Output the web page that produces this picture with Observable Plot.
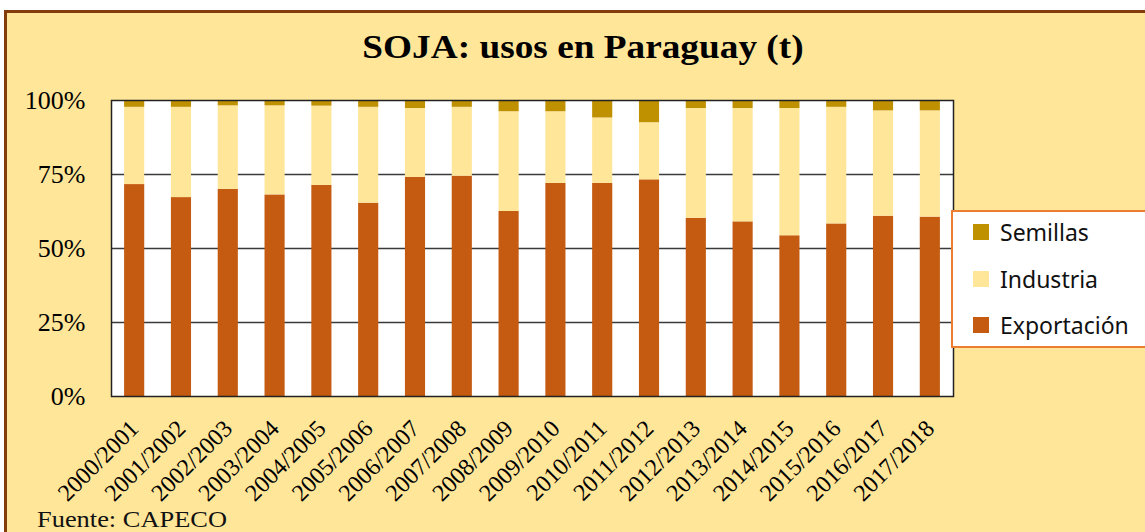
<!DOCTYPE html>
<html>
<head>
<meta charset="utf-8">
<script src="https://cdn.jsdelivr.net/npm/d3@7"></script>
<script src="https://cdn.jsdelivr.net/npm/@observablehq/plot@0.6"></script>
<style>
  html, body { margin: 0; padding: 0; background: #ffffff; width: 1145px; height: 532px; overflow: hidden; }
  #frame { position: absolute; left: 4px; top: 10px; width: 1200px; height: 600px; background: #FFE699;
           border-left: 3px solid #843C0C; border-top: 3px solid #843C0C; }
  #title { position: absolute; left: 0; top: 29px; width: 1166px; text-align: center;
           font-family: "Liberation Serif", serif; font-weight: bold; font-size: 33px; color: #000;
           transform: scaleX(1.13); transform-origin: 583px 0; }
  #chart { position: absolute; left: 0; top: 80px; }
  #caption { position: absolute; left: 37px; top: 506px; line-height: 26px; font-family: "Liberation Serif", serif;
             font-size: 24px; color: #111; transform: scaleX(1.1); transform-origin: 0 0; }
  #legend { position: absolute; left: 951px; top: 210px; width: 220px; height: 134px; background: #fff;
            border: 2px solid #ED7D31; font-family: "Noto Sans", sans-serif; font-size: 23px; color: #111; }
  .item { position: absolute; left: 20px; height: 30px; display: flex; align-items: center; }
  .sw { width: 16px; height: 16px; margin-right: 11px; }
</style>
</head>
<body>
<div id="frame"></div>
<div id="title">SOJA: usos en Paraguay (t)</div>
<div id="chart"></div>
<div id="legend"></div>
<div id="caption">Fuente: CAPECO</div>
<script>
const years = ["2000/2001","2001/2002","2002/2003","2003/2004","2004/2005","2005/2006","2006/2007","2007/2008","2008/2009","2009/2010","2010/2011","2011/2012","2012/2013","2013/2014","2014/2015","2015/2016","2016/2017","2017/2018"];
const exportacion = [71.6,67.2,70.0,68.1,71.3,65.3,74.0,74.4,62.5,72.0,72.0,73.2,60.2,59.0,54.3,58.3,60.9,60.6];
const industria   = [26.1,30.5,28.2,30.1,26.8,32.4,23.3,23.3,33.7,24.2,22.1,19.3,37.1,38.3,43.0,39.4,35.6,35.9];
const semillas    = [2.3,2.3,1.8,1.8,1.9,2.3,2.7,2.3,3.8,3.8,5.9,7.5,2.7,2.7,2.7,2.3,3.5,3.5];
const series = ["Exportación","Industria","Semillas"];
const colors = ["#C55A11","#FFE699","#BF9000"];
const yTicks = [0,25,50,75,100];
const gridTicks = [25,50,75];

const seriesValues = [exportacion, industria, semillas];
const data = [];
years.forEach((y, i) => series.forEach((s, j) => data.push({year: y, tipo: s, value: seriesValues[j][i]})));

const chart = Plot.plot({
  width: 1145,
  height: 440,
  marginTop: 20,
  marginBottom: 124,
  marginLeft: 111,
  marginRight: 192,
  style: {background: "transparent", overflow: "visible"},
  x: {domain: years, paddingInner: 0.57, paddingOuter: 0.28, round: false, label: null},
  y: {domain: [0, 100], label: null},
  color: {domain: series, range: colors},
  marks: [
    Plot.frame({fill: "white", stroke: "none"}),
    Plot.ruleY(gridTicks, {stroke: "#3a3a3a", strokeWidth: 1.5}),
    Plot.barY(data, Plot.stackY({x: "year", y: "value", fill: "tipo", order: series, inset: 0})),
    Plot.frame({stroke: "#222", strokeWidth: 1.5}),
    Plot.axisY(yTicks, {tickFormat: d => d + "%", tickSize: 0, tickPadding: 26, fontSize: 26,
      fontFamily: "Liberation Serif", fill: "#000", label: null}),
    Plot.axisX({tickRotate: -45, tickSize: 0, tickPadding: 28, fontSize: 24,
      fontFamily: "Liberation Serif", fill: "#000", label: null})
  ]
});
document.getElementById("chart").appendChild(chart);

const legend = document.getElementById("legend");
const legendOrder = ["Semillas","Industria","Exportación"];
legendOrder.forEach((s, k) => {
  const it = document.createElement("div");
  it.className = "item";
  it.style.top = (5 + k * 46.5) + "px";
  const sw = document.createElement("div");
  sw.className = "sw";
  sw.style.background = colors[series.indexOf(s)];
  const tx = document.createElement("span");
  tx.textContent = s;
  it.appendChild(sw); it.appendChild(tx);
  legend.appendChild(it);
});
</script>
</body>
</html>
